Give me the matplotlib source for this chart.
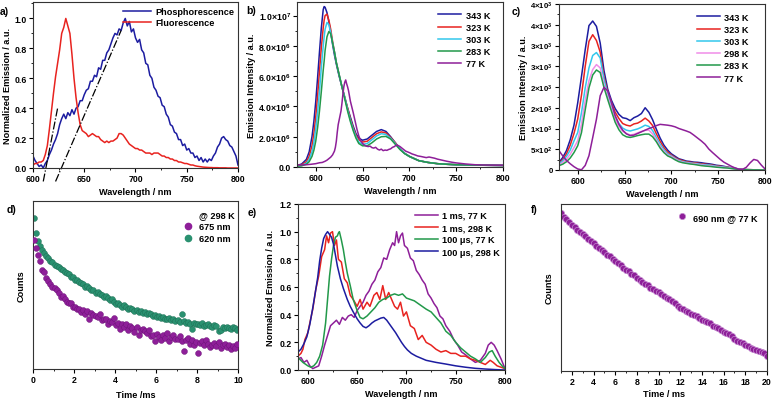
import numpy as np
import matplotlib
matplotlib.use("Agg")
import matplotlib.pyplot as plt
from matplotlib.ticker import AutoMinorLocator, MultipleLocator, FixedLocator
from matplotlib.lines import Line2D

plt.rcParams['font.family'] = ['Liberation Sans', 'DejaVu Sans']
plt.rcParams['font.weight'] = 'bold'
plt.rcParams['axes.labelweight'] = 'bold'
plt.rcParams['font.size'] = 6.5
plt.rcParams['mathtext.fontset'] = 'custom'
plt.rcParams['mathtext.rm'] = 'Liberation Sans:bold'
plt.rcParams['mathtext.bf'] = 'Liberation Sans:bold'
plt.rcParams['mathtext.default'] = 'bf'

NAVY = '#1c1ca0'
RED = '#e8231f'
CYAN = '#33c7ec'
GREEN = '#22994a'
PURPLE = '#8e1f99'
PINK = '#f08de8'
TEAL = '#2a9170'

# ---- a) normalized emission, 600-800 nm step 2
a_wl = np.arange(600, 801, 2)
a_phos = [0.08, 0.05, 0.03, 0.01, 0.02, 0.00, 0.03, 0.05, 0.09, 0.12,
          0.16, 0.19, 0.23, 0.29, 0.33, 0.36, 0.33, 0.37, 0.35, 0.39,
          0.36, 0.40, 0.41, 0.45, 0.45, 0.49, 0.52, 0.53, 0.58, 0.58,
          0.62, 0.61, 0.67, 0.66, 0.72, 0.72, 0.77, 0.79, 0.83, 0.87,
          0.90, 0.89, 0.93, 0.92, 0.97, 1.00, 0.95, 0.98, 0.91, 0.93,
          0.87, 0.84, 0.86, 0.79, 0.77, 0.70, 0.69, 0.62, 0.60, 0.54,
          0.52, 0.48, 0.47, 0.42, 0.41, 0.36, 0.34, 0.29, 0.28, 0.24,
          0.23, 0.19, 0.19, 0.15, 0.16, 0.12, 0.13, 0.10, 0.10, 0.07,
          0.08, 0.05, 0.07, 0.04, 0.06, 0.04, 0.06, 0.05, 0.08, 0.10,
          0.14, 0.16, 0.20, 0.21, 0.19, 0.18, 0.15, 0.14, 0.11, 0.08,
          0.02]
a_fluo = [0.02, 0.03, 0.03, 0.04, 0.04, 0.05, 0.09, 0.15, 0.26, 0.38,
          0.50, 0.61, 0.70, 0.79, 0.90, 0.94, 1.00, 0.95, 0.90, 0.76,
          0.60, 0.47, 0.37, 0.29, 0.25, 0.24, 0.23, 0.21, 0.22, 0.23,
          0.22, 0.21, 0.21, 0.19, 0.18, 0.17, 0.18, 0.17, 0.18, 0.18,
          0.19, 0.20, 0.23, 0.23, 0.22, 0.20, 0.18, 0.16, 0.15, 0.14,
          0.13, 0.13, 0.12, 0.12, 0.11, 0.10, 0.10, 0.10, 0.09, 0.10,
          0.10, 0.10, 0.09, 0.08, 0.08, 0.07, 0.07, 0.06, 0.06, 0.05,
          0.05, 0.04, 0.04, 0.035, 0.03, 0.03, 0.025, 0.02, 0.02, 0.015,
          0.012, 0.01, 0.008, 0.006, 0.005, 0.004, 0.003, 0.003, 0.002, 0.002,
          0.002, 0.001, 0.001, 0.001, 0.001, 0.0, 0.0, 0.0, 0.0, 0.0,
          0.0]
a_tan1_x = [610, 624]
a_tan1_y = [-0.09, 0.40]
a_tan2_x = [622, 686]
a_tan2_y = [-0.09, 0.92]

# ---- b) steady-state emission vs T (units of 1e6)
b_wl = [580, 585, 590, 593, 596, 598, 600, 602, 604, 606, 608, 609, 610, 612, 614,
        616, 618, 620, 622, 625, 628, 631, 634, 637, 640, 643, 646, 650, 655, 660,
        665, 670, 675, 680, 685, 690, 695, 700, 710, 720, 730, 740, 750, 775, 800]
b_343 = [0.1, 0.2, 0.5, 1.0, 2.0, 3.0, 4.3, 5.9, 7.6, 9.2, 10.4, 10.6, 10.55, 10.2, 9.6,
         8.9, 8.1, 7.4, 6.8, 6.0, 5.3, 4.6, 3.9, 3.3, 2.7, 2.2, 1.9, 1.77, 1.85, 2.1,
         2.35, 2.47, 2.35, 2.0, 1.6, 1.2, 0.9, 0.7, 0.42, 0.3, 0.22, 0.18, 0.15, 0.12, 0.1]
b_323 = [0.08, 0.15, 0.35, 0.7, 1.4, 2.2, 3.3, 4.7, 6.3, 7.9, 9.2, 9.7, 10.0, 10.1, 9.7,
         9.1, 8.3, 7.6, 6.9, 6.1, 5.3, 4.6, 3.9, 3.2, 2.6, 2.1, 1.8, 1.65, 1.7, 1.95,
         2.2, 2.32, 2.25, 1.95, 1.6, 1.2, 0.9, 0.7, 0.42, 0.3, 0.22, 0.18, 0.15, 0.12, 0.1]
b_303 = [0.06, 0.1, 0.25, 0.5, 1.0, 1.6, 2.5, 3.6, 5.0, 6.6, 8.0, 8.6, 9.1, 9.55, 9.4,
         8.9, 8.2, 7.6, 6.9, 6.1, 5.3, 4.6, 3.8, 3.1, 2.5, 2.0, 1.65, 1.5, 1.55, 1.8,
         2.05, 2.2, 2.15, 1.9, 1.55, 1.2, 0.9, 0.7, 0.42, 0.3, 0.22, 0.18, 0.15, 0.12, 0.1]
b_283 = [0.05, 0.08, 0.18, 0.35, 0.7, 1.1, 1.7, 2.6, 3.7, 5.0, 6.4, 7.0, 7.7, 8.6, 8.95,
         8.8, 8.2, 7.6, 6.9, 6.1, 5.3, 4.5, 3.7, 3.0, 2.4, 1.9, 1.55, 1.4, 1.4, 1.6,
         1.85, 2.0, 2.02, 1.85, 1.5, 1.15, 0.88, 0.7, 0.42, 0.3, 0.22, 0.18, 0.15, 0.12, 0.1]
b_77 = np.array([
    (580, 0.12), (585, 0.14), (590, 0.15), (595, 0.18), (600, 0.22), (604, 0.28), (607, 0.30),
    (610, 0.38), (612, 0.45), (614, 0.55), (616, 0.65), (618, 0.80), (620, 1.05), (621, 1.3),
    (622, 1.7), (623, 2.3), (624, 2.8), (625, 3.1), (626, 3.4), (627, 3.7), (628, 4.2),
    (629, 4.8), (630, 5.3), (631, 5.6), (632, 5.75), (633, 5.5), (634, 5.3), (635, 5.05),
    (636, 4.7), (637, 4.35), (638, 4.1), (640, 3.6), (642, 3.05), (644, 2.5), (646, 2.05),
    (648, 1.75), (650, 1.55), (652, 1.45), (654, 1.38), (656, 1.35), (658, 1.38), (660, 1.28),
    (662, 1.25), (664, 1.3), (666, 1.18), (668, 1.12), (670, 1.18), (672, 1.08), (674, 1.12),
    (676, 1.1), (678, 1.16), (680, 1.2), (682, 1.3), (684, 1.35), (686, 1.45), (688, 1.42),
    (690, 1.35), (692, 1.25), (694, 1.15), (696, 1.05), (698, 1.0), (700, 0.95), (703, 0.86),
    (706, 0.8), (709, 0.73), (712, 0.7), (715, 0.66), (718, 0.62), (721, 0.66), (724, 0.62),
    (727, 0.58), (730, 0.52), (735, 0.45), (740, 0.38), (745, 0.32), (750, 0.27), (760, 0.2),
    (770, 0.15), (780, 0.13), (800, 0.12)])

# ---- c) gated emission vs T, 580-800 step 4
c_wl = np.arange(580, 801, 4)
c_343 = [185, 300, 470, 730, 1080, 1620, 2250, 2900, 3480, 3590,
         3460, 3060, 2400, 1950, 1680, 1480, 1340, 1260, 1240, 1190,
         1260, 1300, 1360, 1500, 1390, 1210, 980, 770, 600, 480,
         390, 330, 270, 245, 215, 205, 190, 185, 175, 160,
         150, 135, 115, 105, 90, 70, 55, 40, 25, 15,
         10, 8, 5, 6, 3, 0]
c_323 = [145, 250, 390, 600, 880, 1230, 1800, 2500, 3100, 3260,
         3120, 2840, 2250, 1880, 1620, 1390, 1240, 1120, 1080, 1060,
         1110, 1130, 1180, 1250, 1180, 1070, 870, 690, 540, 430,
         360, 300, 250, 225, 200, 185, 175, 165, 150, 140,
         130, 115, 100, 90, 75, 65, 50, 35, 25, 15,
         10, 8, 5, 5, 3, 0]
c_303 = [145, 220, 330, 480, 700, 905, 1380, 1980, 2460, 2760,
         2830, 2700, 2190, 1830, 1520, 1300, 1120, 1010, 960, 940,
         965, 990, 1030, 1080, 1050, 950, 780, 620, 490, 390,
         340, 280, 230, 205, 185, 170, 160, 150, 135, 125,
         120, 105, 90, 80, 70, 60, 45, 35, 20, 12,
         8, 5, 4, 3, 2, 0]
c_298 = [120, 180, 260, 380, 540, 705, 1100, 1680, 2150, 2420,
         2540, 2460, 2070, 1760, 1480, 1230, 1050, 930, 880, 845,
         860, 895, 930, 955, 960, 870, 720, 570, 450, 360,
         325, 265, 215, 190, 170, 160, 150, 135, 120, 110,
         100, 90, 80, 70, 60, 55, 40, 30, 18, 10,
         6, 4, 3, 2, 1, 0]
c_283 = [105, 140, 200, 290, 420, 585, 900, 1450, 1980, 2290,
         2410, 2350, 1990, 1700, 1420, 1150, 970, 850, 800, 785,
         805, 830, 850, 865, 865, 800, 680, 530, 420, 340,
         300, 245, 200, 175, 160, 145, 135, 120, 105, 95,
         88, 78, 68, 60, 52, 48, 35, 25, 15, 8,
         5, 3, 2, 2, 1, 0]
c_77 = [465, 340, 230, 150, 80, 25, 5, 110, 345, 780,
        1226, 1790, 1990, 1910, 1630, 1306, 1100, 960, 870, 830,
        840, 880, 920, 960, 1000, 1030, 1070, 1100, 1090, 1080,
        1065, 1040, 1000, 970, 940, 905, 840, 770, 700, 620,
        505, 420, 340, 260, 190, 140, 90, 50, 20, 15,
        65, 170, 255, 230, 120, 25]

# ---- d) decays at 298 K (relative counts), 0.1 ms spacing
d_620 = [0.897, 0.808, 0.76, 0.735, 0.71, 0.69, 0.675, 0.66, 0.645, 0.635,
         0.62, 0.615, 0.605, 0.595, 0.59, 0.578, 0.572, 0.565, 0.548, 0.545,
         0.53, 0.528, 0.515, 0.512, 0.505, 0.49, 0.495, 0.48, 0.472, 0.468,
         0.455, 0.46, 0.445, 0.44, 0.43, 0.432, 0.42, 0.41, 0.415, 0.40,
         0.385, 0.39, 0.38, 0.372, 0.378, 0.368, 0.36, 0.365, 0.355, 0.348,
         0.35, 0.342, 0.345, 0.335, 0.34, 0.328, 0.332, 0.325, 0.318, 0.322,
         0.31, 0.318, 0.305, 0.312, 0.30, 0.296, 0.305, 0.29, 0.298, 0.288,
         0.292, 0.28, 0.33, 0.285, 0.275, 0.282, 0.27, 0.24, 0.272, 0.265,
         0.268, 0.26, 0.275, 0.255, 0.262, 0.27, 0.258, 0.25, 0.262, 0.255,
         0.225, 0.235, 0.248, 0.242, 0.25, 0.245, 0.238, 0.252, 0.244, 0.235]
d_675 = [0.77, 0.72, 0.68, 0.64, 0.59, 0.575, 0.54, 0.525, 0.505, 0.49,
         0.48, 0.47, 0.455, 0.43, 0.435, 0.415, 0.40, 0.39, 0.395, 0.372,
         0.37, 0.36, 0.358, 0.34, 0.352, 0.33, 0.345, 0.30, 0.335, 0.32,
         0.315, 0.31, 0.325, 0.29, 0.295, 0.30, 0.27, 0.285, 0.28, 0.305,
         0.26, 0.275, 0.24, 0.265, 0.25, 0.27, 0.235, 0.255, 0.245, 0.22,
         0.25, 0.205, 0.235, 0.24, 0.225, 0.215, 0.23, 0.195, 0.205, 0.165,
         0.21, 0.19, 0.175, 0.2, 0.185, 0.215, 0.165, 0.19, 0.2, 0.178,
         0.18, 0.195, 0.165, 0.105, 0.17, 0.185, 0.15, 0.175, 0.145, 0.16,
         0.095, 0.155, 0.165, 0.14, 0.17, 0.15, 0.13, 0.145, 0.155, 0.135,
         0.16, 0.125, 0.14, 0.15, 0.13, 0.145, 0.12, 0.135, 0.125, 0.15]

# ---- e) time-gated normalized spectra
e_1ms_77 = np.array([
    (590, 0.08), (593, 0.09), (596, 0.055), (599, 0.07), (602, 0.03), (605, 0.01), (608, 0.02),
    (611, 0.03), (614, 0.10), (617, 0.18), (620, 0.25), (623, 0.32), (626, 0.34), (629, 0.36),
    (632, 0.33), (635, 0.38), (638, 0.36), (641, 0.39), (644, 0.40), (647, 0.38), (650, 0.43),
    (653, 0.46), (656, 0.49), (659, 0.54), (662, 0.57), (665, 0.62), (668, 0.65), (671, 0.71),
    (674, 0.74), (677, 0.81), (680, 0.80), (683, 0.87), (686, 0.92), (688, 0.90), (690, 1.0),
    (692, 0.92), (694, 0.97), (696, 0.99), (698, 0.90), (701, 0.88), (704, 0.81), (707, 0.79),
    (710, 0.72), (713, 0.69), (716, 0.65), (719, 0.62), (722, 0.55), (725, 0.52), (728, 0.48),
    (731, 0.45), (734, 0.39), (737, 0.37), (740, 0.32), (744, 0.28), (748, 0.22), (752, 0.18),
    (756, 0.13), (760, 0.11), (765, 0.08), (770, 0.055), (775, 0.07), (780, 0.12), (783, 0.18),
    (786, 0.20), (789, 0.18), (792, 0.14), (796, 0.08), (800, 0.01)])
e_1ms_298 = np.array([
    (590, 0.10), (593, 0.12), (595, 0.15), (597, 0.22), (600, 0.27), (602, 0.34), (605, 0.44),
    (608, 0.58), (611, 0.68), (614, 0.82), (617, 0.87), (619, 0.97), (621, 0.92), (623, 0.99),
    (625, 1.0), (627, 0.90), (629, 0.94), (631, 0.80), (634, 0.78), (637, 0.66), (640, 0.63),
    (643, 0.54), (646, 0.51), (650, 0.46), (653, 0.51), (656, 0.44), (660, 0.49), (663, 0.46),
    (667, 0.54), (670, 0.56), (673, 0.51), (676, 0.61), (679, 0.51), (682, 0.56), (685, 0.51),
    (688, 0.46), (691, 0.44), (694, 0.49), (697, 0.39), (700, 0.42), (704, 0.32), (708, 0.30),
    (712, 0.22), (716, 0.25), (720, 0.20), (725, 0.18), (730, 0.15), (735, 0.13), (740, 0.14),
    (745, 0.12), (750, 0.12), (755, 0.10), (760, 0.10), (765, 0.08), (770, 0.07), (775, 0.055),
    (780, 0.04), (785, 0.07), (788, 0.055), (792, 0.03), (796, 0.02), (800, 0.01)])
e_100us_77 = np.array([
    (590, 0.09), (595, 0.055), (600, 0.03), (603, 0.02), (606, 0.03), (609, 0.055), (612, 0.10),
    (615, 0.18), (618, 0.34), (620, 0.51), (622, 0.68), (624, 0.80), (626, 0.90), (628, 0.96),
    (630, 0.97), (631, 0.99), (632, 1.0), (634, 0.94), (636, 0.87), (638, 0.78), (640, 0.70),
    (643, 0.61), (646, 0.51), (650, 0.43), (653, 0.38), (656, 0.37), (660, 0.39), (664, 0.42),
    (668, 0.45), (672, 0.49), (676, 0.51), (680, 0.52), (684, 0.54), (688, 0.55), (692, 0.54),
    (696, 0.55), (700, 0.52), (704, 0.51), (708, 0.50), (712, 0.48), (716, 0.46), (720, 0.44),
    (725, 0.42), (730, 0.38), (735, 0.34), (740, 0.28), (745, 0.25), (750, 0.20), (755, 0.16),
    (760, 0.13), (765, 0.10), (770, 0.08), (775, 0.055), (780, 0.09), (784, 0.13), (787, 0.14),
    (790, 0.10), (794, 0.055), (797, 0.03), (800, 0.01)])
e_100us_298 = np.array([
    (590, 0.13), (593, 0.15), (596, 0.19), (599, 0.24), (602, 0.33), (605, 0.45), (608, 0.58),
    (610, 0.67), (612, 0.79), (614, 0.88), (616, 0.95), (618, 0.98), (620, 1.0), (622, 0.98),
    (624, 0.96), (626, 0.91), (628, 0.83), (630, 0.75), (633, 0.66), (636, 0.59), (640, 0.51),
    (643, 0.46), (646, 0.42), (650, 0.37), (653, 0.34), (656, 0.315), (659, 0.305), (662, 0.32),
    (665, 0.34), (668, 0.355), (671, 0.365), (674, 0.375), (677, 0.38), (680, 0.36), (683, 0.33),
    (686, 0.30), (689, 0.27), (692, 0.235), (695, 0.20), (698, 0.17), (701, 0.145), (705, 0.12),
    (710, 0.10), (715, 0.085), (720, 0.07), (730, 0.055), (740, 0.043), (750, 0.03), (760, 0.02),
    (770, 0.012), (780, 0.007), (790, 0.003), (800, 0.0)])

# ---- f) decay of 690 nm at 77 K, 1-20 ms every 0.25 ms
f_690 = [0.945, 0.925, 0.912, 0.893, 0.875, 0.862, 0.846, 0.833, 0.818, 0.806,
         0.790, 0.778, 0.765, 0.750, 0.738, 0.725, 0.710, 0.695, 0.688, 0.672,
         0.660, 0.645, 0.635, 0.618, 0.605, 0.598, 0.580, 0.572, 0.555, 0.545,
         0.532, 0.522, 0.512, 0.500, 0.493, 0.482, 0.472, 0.462, 0.452, 0.438,
         0.430, 0.418, 0.405, 0.390, 0.378, 0.370, 0.360, 0.352, 0.342, 0.335,
         0.328, 0.315, 0.305, 0.298, 0.292, 0.285, 0.270, 0.262, 0.255, 0.245,
         0.236, 0.228, 0.222, 0.210, 0.190, 0.178, 0.172, 0.165, 0.155, 0.148,
         0.140, 0.132, 0.128, 0.120, 0.115, 0.108, 0.092]

W, H = 773, 402
fig = plt.figure(figsize=(W / 100, H / 100), dpi=100)
LAB = 6.6
TICK = 6.3


def panel(l, r, t, b):
    ax = fig.add_axes([l / W, 1 - b / H, (r - l) / W, (b - t) / H])
    for s in ax.spines.values():
        s.set_linewidth(0.8)
        s.set_color('#333333')
    ax.tick_params(which='major', direction='out', length=3, width=0.8, labelsize=TICK, pad=1.5)
    ax.tick_params(which='minor', direction='out', length=1.6, width=0.6)
    return ax


def leg(ax, anchor, **kw):
    opts = dict(loc='upper right', bbox_to_anchor=anchor, frameon=False, fontsize=6.6,
                handlelength=2.5, handletextpad=0.5, labelspacing=0.3, borderaxespad=0)
    opts.update(kw)
    return ax.legend(**opts)


# a)
ax = panel(33, 238, 3, 169)
ax.plot(a_wl, a_phos, color=NAVY, lw=1.1, label='Phosphorescence')
ax.plot(a_wl, a_fluo, color=RED, lw=1.1, label='Fluorescence')
ax.plot(a_tan1_x, a_tan1_y, color='black', lw=0.9, ls='-.', clip_on=False)
ax.plot(a_tan2_x, a_tan2_y, color='black', lw=0.9, ls='-.', clip_on=False)
ax.set_xlim(600, 800)
ax.set_ylim(0, 1.11)
ax.xaxis.set_major_locator(MultipleLocator(50))
ax.yaxis.set_major_locator(MultipleLocator(0.2))
ax.xaxis.set_minor_locator(AutoMinorLocator(2))
ax.yaxis.set_minor_locator(AutoMinorLocator(2))
ax.yaxis.set_major_formatter(lambda v, p: f'{v:.1f}')
ax.set_xlabel('Wavelength / nm', fontsize=LAB, labelpad=3)
ax.set_ylabel('Normalized Emission / a.u.', fontsize=LAB, labelpad=2)
leg(ax, (1.0, 0.99), handlelength=3.0, labelspacing=0.2)

# b)
ax = panel(297, 503, 3, 168)
for vals, col, lab in [(b_343, NAVY, '343 K'), (b_323, RED, '323 K'), (b_303, CYAN, '303 K'),
                       (b_283, GREEN, '283 K')]:
    ax.plot(b_wl, np.array(vals) * 1e6, color=col, lw=1.1, label=lab)
ax.plot(b_77[:, 0], b_77[:, 1] * 1e6, color=PURPLE, lw=1.1, label='77 K')
ax.set_xlim(580, 800)
ax.set_ylim(0, 1.09e7)
ax.xaxis.set_major_locator(MultipleLocator(50))
ax.xaxis.set_minor_locator(AutoMinorLocator(2))
ax.yaxis.set_major_locator(MultipleLocator(2e6))
ax.yaxis.set_minor_locator(AutoMinorLocator(2))
b_labels = ['0.0', '2.0×10$^{6}$', '4.0×10$^{6}$', '6.0×10$^{6}$', '8.0×10$^{6}$', '1.0×10$^{7}$']
ax.yaxis.set_major_formatter(lambda v, p: b_labels[int(round(v / 2e6))] if 0 <= round(v / 2e6) < 6 else '')
ax.set_xlabel('Wavelength / nm', fontsize=LAB, labelpad=3)
ax.set_ylabel('Emission Intensity / a.u.', fontsize=LAB, labelpad=2)
leg(ax, (0.955, 0.97), labelspacing=0.35)

# c)
ax = panel(559, 765, 5, 171)
for vals, col, lab in [(c_343, NAVY, '343 K'), (c_323, RED, '323 K'), (c_303, CYAN, '303 K'),
                       (c_298, PINK, '298 K'), (c_283, GREEN, '283 K'), (c_77, PURPLE, '77 K')]:
    ax.plot(c_wl, vals, color=col, lw=1.1, label=lab)
ax.set_xlim(580, 800)
ax.set_ylim(0, 4000)
ax.xaxis.set_major_locator(MultipleLocator(50))
ax.xaxis.set_minor_locator(AutoMinorLocator(2))
ax.yaxis.set_major_locator(MultipleLocator(500))
ax.yaxis.set_minor_locator(AutoMinorLocator(2))
c_labels = ['0', '5×10$^{2}$', '1×10$^{3}$', '2×10$^{3}$', '2×10$^{3}$', '3×10$^{3}$',
            '3×10$^{3}$', '4×10$^{3}$', '4×10$^{3}$']
ax.yaxis.set_major_formatter(lambda v, p: c_labels[int(round(v / 500))] if 0 <= round(v / 500) < 9 else '')
ax.tick_params(axis='y', labelsize=5.6)
ax.set_xlabel('Wavelength / nm', fontsize=LAB, labelpad=3)
ax.set_ylabel('Emission Intensity / a.u.', fontsize=LAB, labelpad=2)
leg(ax, (0.94, 0.97), labelspacing=0.35)

# d)
ax = panel(33, 238, 202, 370)
d_t = np.linspace(0.05, 9.95, len(d_620))
ax.scatter(d_t, d_675, s=18, color=PURPLE, edgecolors='#6a1075', linewidths=0.3, label='675 nm', zorder=3)
ax.scatter(d_t, d_620, s=18, color=TEAL, edgecolors='#1d6b52', linewidths=0.3, label='620 nm', zorder=2)
ax.set_xlim(0, 10)
ax.set_ylim(0, 1)
ax.set_yticks([])
ax.xaxis.set_major_locator(MultipleLocator(2))
ax.xaxis.set_minor_locator(AutoMinorLocator(2))
ax.set_xlabel('Time /ms', fontsize=LAB, labelpad=4)
ax.set_ylabel('Counts', fontsize=LAB, labelpad=5)
hd = [Line2D([], [], ls='none'),
      Line2D([], [], ls='none', marker='o', ms=4.5, color=PURPLE),
      Line2D([], [], ls='none', marker='o', ms=4.5, color=TEAL)]
leg(ax, (1.0, 0.97), handles=hd, labels=['@ 298 K', '675 nm', '620 nm'],
    handlelength=1.2, labelspacing=0.35)

# e)
ax = panel(298, 505, 205, 371)
for arr, col, lab in [(e_1ms_77, PURPLE, '1 ms, 77 K'), (e_1ms_298, RED, '1 ms, 298 K'),
                      (e_100us_77, GREEN, '100 \u03bcs, 77 K'), (e_100us_298, NAVY, '100 \u03bcs, 298 K')]:
    ax.plot(arr[:, 0], arr[:, 1], color=col, lw=1.1, label=lab)
ax.set_xlim(590, 800)
ax.set_ylim(0, 1.2)
ax.xaxis.set_major_locator(MultipleLocator(50))
ax.xaxis.set_minor_locator(AutoMinorLocator(2))
ax.yaxis.set_major_locator(MultipleLocator(0.2))
ax.yaxis.set_minor_locator(AutoMinorLocator(2))
ax.yaxis.set_major_formatter(lambda v, p: f'{v:.1f}')
ax.set_xlabel('Wavelength / nm', fontsize=LAB, labelpad=3)
ax.set_ylabel('Normalized Emission / a.u.', fontsize=LAB, labelpad=3)
leg(ax, (0.995, 0.98), labelspacing=0.35)

# f)
ax = panel(561, 767, 205, 372)
f_t = np.linspace(1, 20, len(f_690))
ax.plot(f_t, f_690, ls='none', marker='o', ms=4.5, color=PURPLE, mec='#c58ad0', mew=0.5,
        label='690 nm @ 77 K')
ax.set_xlim(1, 20)
ax.set_ylim(0, 1)
ax.set_yticks([])
ax.xaxis.set_major_locator(FixedLocator(np.arange(2, 21, 2)))
ax.xaxis.set_minor_locator(FixedLocator(np.arange(1, 21, 2)))
ax.set_xlabel('Time / ms', fontsize=LAB, labelpad=2)
ax.set_ylabel('Counts', fontsize=LAB, labelpad=5)
leg(ax, (0.97, 0.97), handlelength=1.2)

for lab, x, y in [('a)', 0, 12), ('b)', 246, 11), ('c)', 512, 12),
                  ('d)', 7, 210), ('e)', 248, 213), ('f)', 531, 210)]:
    fig.text(x / W, 1 - y / H, lab, fontsize=7.5, fontweight='bold', va='center', ha='left')

fig.savefig('out.png', dpi=100)
